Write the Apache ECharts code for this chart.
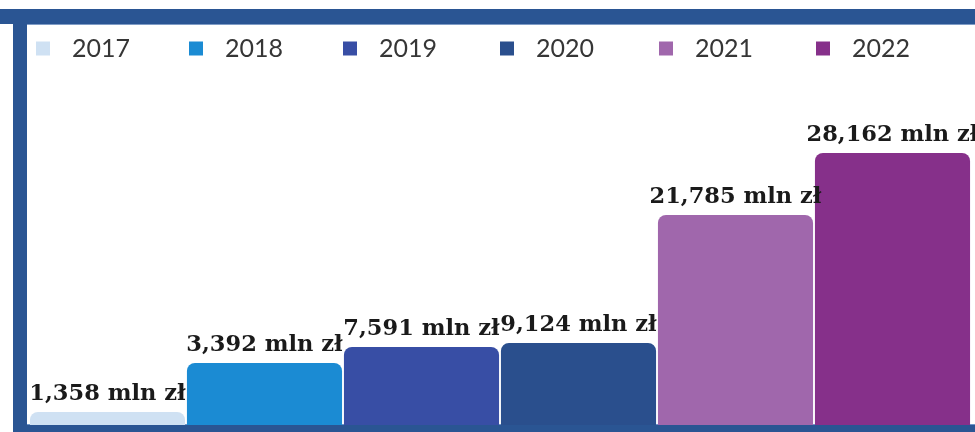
<!DOCTYPE html>
<html>
<head>
<meta charset="utf-8">
<script src="https://cdn.jsdelivr.net/npm/echarts@6/dist/echarts.min.js"></script>
<style>
html,body{margin:0;padding:0;background:#fff;}
#c{width:975px;height:432px;}
</style>
</head>
<body>
<div id="c"></div>
<script>
const years = ['2017', '2018', '2019', '2020', '2021', '2022'];
const valuesMln = [1358, 3392, 7591, 9124, 21785, 28162];
const barHeights = [13, 62, 78, 82, 210, 272];
const colors = ['#cfe1f3', '#1b8bd3', '#384ea5', '#2a4f8d', '#a067ac', '#86308a'];
const legendLeft = [36, 189, 343, 500, 659, 816];

const chart = echarts.init(document.getElementById('c'));

const fmt = v => v.toLocaleString('en-US') + ' mln zł';

const series = years.map((y, i) => ({
  name: y,
  type: 'bar',
  stack: 'all',
  barCategoryGap: '1.2%',
  itemStyle: { color: colors[i], borderRadius: [8, 8, 0, 0] },
  label: {
    show: true,
    position: 'top',
    distance: 6,
    formatter: () => fmt(valuesMln[i]),
    fontFamily: 'DejaVu Serif',
    fontWeight: 'bold',
    fontSize: 22.5,
    color: '#1a1a1a'
  },
  data: years.map((_, j) => (j === i ? barHeights[i] : '-'))
}));

const legends = years.map((y, i) => ({
  data: [y],
  left: legendLeft[i],
  top: 36,
  padding: 0,
  itemWidth: 14,
  itemHeight: 14,
  icon: 'rect',
  textStyle: { fontFamily: 'Lato', fontSize: 25, color: '#363636', padding: [0, 0, 0, 17] }
}));

chart.setOption({
  animation: false,
  legend: legends,
  grid: { left: 29, right: 4, top: 125, bottom: 7 },
  xAxis: { type: 'category', data: years, show: false },
  yAxis: { type: 'value', min: 0, max: 300, show: false },
  series: series,
  graphic: [
    { type: 'rect', shape: { x: 0, y: 9, width: 975, height: 15 }, style: { fill: '#2a5593' } },
    { type: 'rect', shape: { x: 13, y: 9, width: 14, height: 423 }, style: { fill: '#2a5593' } },
    { type: 'rect', shape: { x: 13, y: 425, width: 962, height: 7 }, style: { fill: '#2a5593' } },
    { type: 'rect', shape: { x: 27, y: 24, width: 948, height: 1 }, style: { fill: '#7f9cc6' } },
    { type: 'rect', shape: { x: 27, y: 424, width: 948, height: 1 }, style: { fill: '#6f96c9' } }
  ]
});
</script>
</body>
</html>
